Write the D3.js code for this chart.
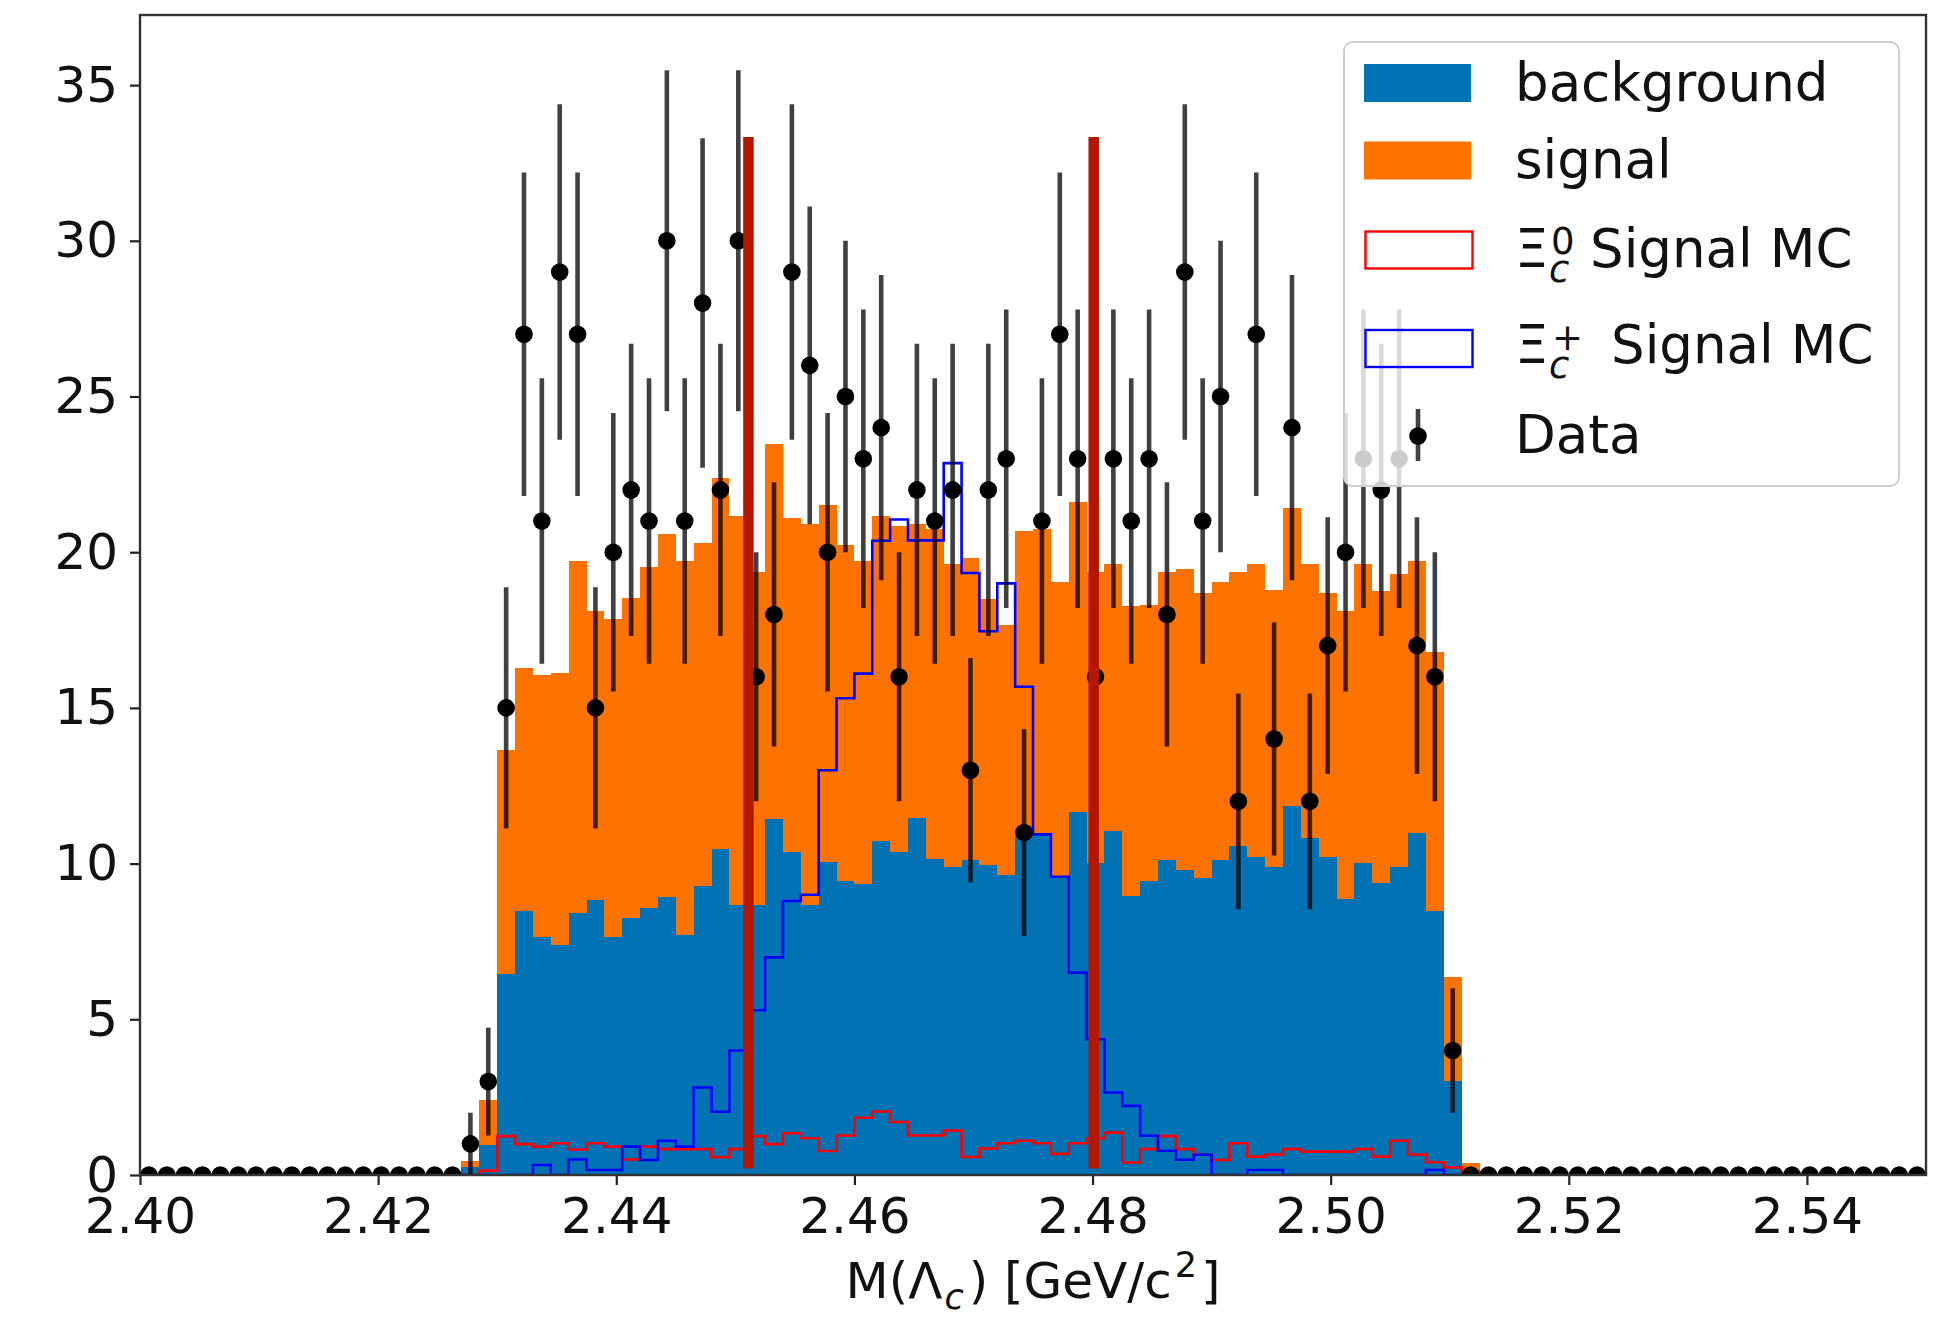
<!DOCTYPE html>
<html>
<head>
<meta charset="utf-8">
<script src="https://cdn.jsdelivr.net/npm/d3@7"></script>
<style>
  body { margin: 0; background: #fff; }
  text { font-family: "DejaVu Sans", sans-serif; }
</style>
</head>
<body>
<div id="chart"></div>
<script>
// histogram binning: 100 bins between 2.40 and 2.55 GeV
var binLo = 2.40, binHi = 2.55, nBins = 100;
// first bin index where the arrays below start (all bins before are empty)
var firstBin = 18;

// stacked fit components, bins 18..74
var background = [0.25, 0.95, 6.45, 8.48, 7.64, 7.39, 8.41, 8.84, 7.64, 8.26,
  8.59, 8.92, 7.72, 9.28, 10.48, 8.68, 8.68, 11.42, 10.38, 8.68,
  10.06, 9.43, 9.36, 10.72, 10.38, 11.48, 10.14, 9.88, 10.12, 9.96,
  9.63, 11.12, 10.94, 9.55, 11.65, 10.01, 11.05, 8.95, 9.44, 10.12,
  9.79, 9.55, 10.12, 10.55, 10.21, 9.88, 11.84, 10.81, 10.21, 8.86,
  10.01, 9.39, 9.88, 10.97, 8.48, 3.03, 0.15];
var signal = [0.20, 1.45, 7.19, 7.81, 8.41, 8.73, 11.31, 9.26, 10.20, 10.26,
  10.95, 11.65, 12.00, 11.03, 11.89, 12.49, 10.69, 12.06, 10.72, 12.24,
  11.45, 10.80, 10.36, 10.45, 10.45, 9.43, 10.61, 9.75, 9.69, 8.55,
  8.04, 9.55, 9.81, 9.49, 9.96, 9.37, 8.58, 9.31, 8.88, 9.24,
  9.66, 9.15, 8.92, 8.82, 9.42, 8.90, 9.59, 8.82, 8.49, 9.24,
  9.62, 9.38, 9.41, 8.75, 8.31, 3.32, 0.25];

// signal MC shapes (step outlines), bins 18..74
var xic0MC = [0, 0.14, 1.25, 0.99, 0.91, 1.02, 0.82, 1.02, 0.91, 0.50,
  0.91, 0.83, 0.83, 0.83, 0.57, 0.83, 1.25, 0.99, 1.34, 1.18,
  0.77, 1.27, 1.84, 2.04, 1.70, 1.27, 1.27, 1.43, 0.58, 0.85,
  1.02, 1.10, 1.02, 0.68, 1.02, 1.18, 1.36, 0.40, 0.83, 1.25,
  0.83, 0.65, 0.48, 1.02, 0.59, 0.66, 0.83, 0.75, 0.75, 0.75,
  0.83, 0.59, 1.10, 0.66, 0.41, 0.24, 0.10];
var xicpMC = [0, 0, 0, 0, 0.32, 0, 0.50, 0.16, 0.16, 0.91,
  0.48, 1.10, 0.91, 2.81, 2.03, 4.00, 5.29, 6.99, 8.80, 9.00,
  13.00, 15.31, 16.10, 20.37, 21.05, 20.38, 20.38, 22.86, 19.33, 17.46,
  19.00, 15.68, 10.94, 9.58, 6.50, 4.36, 2.65, 2.22, 1.26, 0.78,
  0.49, 0.65, 0, 0, 0.16, 0.16, 0, 0, 0, 0,
  0, 0, 0, 0, 0.16, 0, 0];

// data counts, bins 18..73
var dataCounts = [1, 3, 15, 27, 21, 29, 27, 15, 20, 22,
  21, 30, 21, 28, 22, 30, 16, 18, 29, 26,
  20, 25, 23, 24, 16, 22, 21, 22, 13, 22,
  23, 11, 21, 27, 23, 16, 23, 21, 23, 18,
  29, 21, 25, 12, 27, 14, 24, 12, 17, 20,
  23, 22, 23, 17, 16, 4];

// signal window cut lines
var cutPositions = [2.4511, 2.4801];
var cutRange = [0.21, 33.33];

var xTicks = [2.40, 2.42, 2.44, 2.46, 2.48, 2.50, 2.52, 2.54];
var yTicks = [0, 5, 10, 15, 20, 25, 30, 35];

var bgColor = "#0173b4", sigColor = "#fe7300";

// pad a bin array out to the full 100 bins with empty bins
function fullRange(arr) {
  var out = [];
  for (var i = 0; i < nBins; i++) {
    var j = i - firstBin;
    out.push(j >= 0 && j < arr.length ? arr[j] : 0);
  }
  return out;
}

var edges = d3.range(nBins + 1).map(function(i) { return binLo + i * (binHi - binLo) / nBins; });
var bins = d3.range(nBins).map(function(i) {
  return {
    lo: edges[i], hi: edges[i + 1], mid: (edges[i] + edges[i + 1]) / 2,
    bg: fullRange(background)[i], sig: fullRange(signal)[i],
    xic0: fullRange(xic0MC)[i], xicp: fullRange(xicpMC)[i],
    n: fullRange(dataCounts)[i]
  };
});

var margin = {top: 15, right: 22, bottom: 142, left: 140};
var width = 1948 - margin.left - margin.right,
    height = 1317 - margin.top - margin.bottom;

var yTop = d3.max(bins, function(d) { return d.n + Math.sqrt(d.n); }) * 1.05;

var x = d3.scaleLinear().domain([binLo, binHi]).range([0, width]);
var y = d3.scaleLinear().domain([0, yTop]).range([height, 0]);

var svg = d3.select("#chart").append("svg")
    .attr("width", 1948)
    .attr("height", 1317)
    .style("display", "block");

svg.append("defs").append("clipPath").attr("id", "plotclip")
  .append("rect").attr("width", width).attr("height", height);

var g = svg.append("g").attr("transform", "translate(" + margin.left + "," + margin.top + ")");
var plot = g.append("g").attr("clip-path", "url(#plotclip)");

// stacked histogram: background then signal on top
plot.append("g").selectAll("rect.bg")
  .data(bins.filter(function(d) { return d.bg > 0; }))
  .enter().append("rect")
    .attr("class", "bg")
    .attr("x", function(d) { return x(d.lo); })
    .attr("width", function(d) { return x(d.hi) - x(d.lo); })
    .attr("y", function(d) { return y(d.bg); })
    .attr("height", function(d) { return y(0) - y(d.bg); })
    .attr("fill", bgColor)
    .attr("shape-rendering", "crispEdges");

plot.append("g").selectAll("rect.sig")
  .data(bins.filter(function(d) { return d.sig > 0; }))
  .enter().append("rect")
    .attr("class", "sig")
    .attr("x", function(d) { return x(d.lo); })
    .attr("width", function(d) { return x(d.hi) - x(d.lo); })
    .attr("y", function(d) { return y(d.bg + d.sig); })
    .attr("height", function(d) { return y(d.bg) - y(d.bg + d.sig); })
    .attr("fill", sigColor)
    .attr("shape-rendering", "crispEdges");

// MC step outlines
function stepPoints(key) {
  var pts = bins.map(function(d) { return [d.lo, d[key]]; });
  pts.push([binHi, bins[nBins - 1][key]]);
  return pts;
}
var stepLine = d3.line()
  .x(function(p) { return x(p[0]); })
  .y(function(p) { return y(p[1]); })
  .curve(d3.curveStepAfter);

plot.append("path").datum(stepPoints("xic0"))
  .attr("d", stepLine).attr("fill", "none")
  .attr("stroke", "#ff0000").attr("stroke-width", 2.6);
plot.append("path").datum(stepPoints("xicp"))
  .attr("d", stepLine).attr("fill", "none")
  .attr("stroke", "#0000ff").attr("stroke-width", 2.6);

// data points with poisson errors
plot.append("g").selectAll("line.err")
  .data(bins.filter(function(d) { return d.n > 0; }))
  .enter().append("line")
    .attr("class", "err")
    .attr("x1", function(d) { return x(d.mid); })
    .attr("x2", function(d) { return x(d.mid); })
    .attr("y1", function(d) { return y(d.n - Math.sqrt(d.n)); })
    .attr("y2", function(d) { return y(d.n + Math.sqrt(d.n)); })
    .attr("stroke", "#000").attr("stroke-opacity", 0.75)
    .attr("stroke-width", 4.6);

plot.append("g").selectAll("circle")
  .data(bins)
  .enter().append("circle")
    .attr("cx", function(d) { return x(d.mid); })
    .attr("cy", function(d) { return y(d.n); })
    .attr("r", 8.8)
    .attr("fill", "#000");

// signal window lines
plot.append("g").selectAll("line.cut")
  .data(cutPositions)
  .enter().append("line")
    .attr("class", "cut")
    .attr("x1", function(d) { return x(d); })
    .attr("x2", function(d) { return x(d); })
    .attr("y1", y(cutRange[0]))
    .attr("y2", y(cutRange[1]))
    .attr("stroke", "#b41600")
    .attr("stroke-width", 10.5);

// axes
var xAxis = g.append("g")
  .attr("transform", "translate(0," + height + ")")
  .call(d3.axisBottom(x).tickValues(xTicks).tickFormat(d3.format(".2f"))
    .tickSize(10).tickSizeOuter(0).tickPadding(12));
var yAxis = g.append("g")
  .call(d3.axisLeft(y).tickValues(yTicks).tickFormat(d3.format("d"))
    .tickSize(10).tickSizeOuter(0).tickPadding(12));
[xAxis, yAxis].forEach(function(ax) {
  ax.select(".domain").remove();
  ax.selectAll(".tick line").attr("stroke", "#222").attr("stroke-width", 2.2);
  ax.selectAll(".tick text").attr("fill", "#111")
    .style("font-family", "'DejaVu Sans', sans-serif").style("font-size", "50px");
});

g.append("rect")
  .attr("width", width).attr("height", height)
  .attr("fill", "none").attr("stroke", "#333").attr("stroke-width", 2.4);

// x axis label
var xl = svg.append("text")
  .attr("x", margin.left + width / 2)
  .attr("y", 1298)
  .attr("text-anchor", "middle")
  .attr("fill", "#111")
  .style("font-size", "50px");
xl.append("tspan").text("M(Λ");
xl.append("tspan").attr("dy", 11).attr("dx", 2).style("font-size", "35px").style("font-style", "italic").text("c");
xl.append("tspan").attr("dy", -11).attr("dx", 5).text(") [GeV/c");
xl.append("tspan").attr("dy", -21).attr("dx", 3).style("font-size", "35px").text("2");
xl.append("tspan").attr("dy", 21).attr("dx", 4).text("]");

// legend
var leg = svg.append("g");
leg.append("rect")
  .attr("x", 1344).attr("y", 42).attr("width", 555).attr("height", 444).attr("rx", 9)
  .attr("fill", "#fff").attr("fill-opacity", 0.8)
  .attr("stroke", "#cfcfcf").attr("stroke-width", 2);

leg.append("rect").attr("x", 1364).attr("y", 64).attr("width", 107).attr("height", 38).attr("fill", bgColor);
leg.append("rect").attr("x", 1364).attr("y", 141.5).attr("width", 107).attr("height", 38).attr("fill", sigColor);
leg.append("rect").attr("x", 1365.5).attr("y", 231.5).attr("width", 107).attr("height", 37)
  .attr("fill", "none").attr("stroke", "#ff0000").attr("stroke-width", 2.4);
leg.append("rect").attr("x", 1365.5).attr("y", 330).attr("width", 107).attr("height", 37)
  .attr("fill", "none").attr("stroke", "#0000ff").attr("stroke-width", 2.4);
leg.append("line").attr("x1", 1418).attr("x2", 1418).attr("y1", 409).attr("y2", 461)
  .attr("stroke", "#000").attr("stroke-opacity", 0.75).attr("stroke-width", 4.6);
leg.append("circle").attr("cx", 1418).attr("cy", 436).attr("r", 8.8).attr("fill", "#000");

function legText(xp, yp, str, size, italic) {
  return leg.append("text").attr("x", xp).attr("y", yp).attr("fill", "#111")
    .style("font-size", (size || 53) + "px")
    .style("font-style", italic ? "italic" : "normal")
    .text(str);
}
legText(1515, 101, "background");
legText(1515, 178, "signal");
legText(1515, 267, "Ξ");
legText(1549, 282, "c", 37, true);
legText(1551, 254, "0", 37);
legText(1590, 267, "Signal MC");
legText(1515, 363, "Ξ");
legText(1549, 378, "c", 37, true);
legText(1552, 350, "+", 37);
legText(1611, 363, "Signal MC");
legText(1515, 453, "Data");
</script>
</body>
</html>
